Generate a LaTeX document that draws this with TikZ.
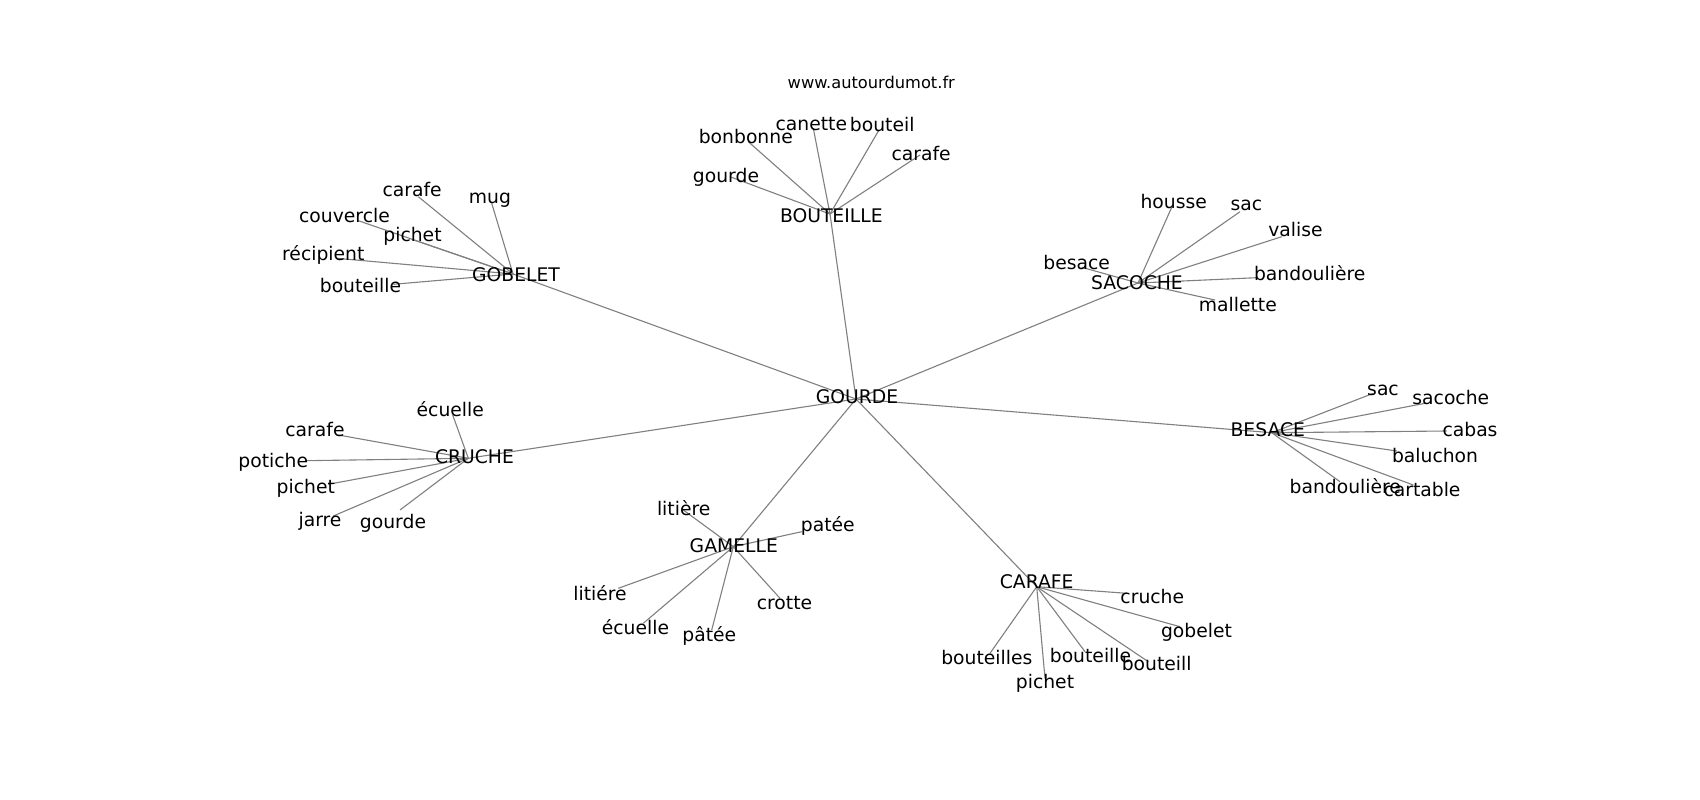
\documentclass[tikz,border=0pt]{standalone}
\usepackage{fontspec}
\setmainfont{DejaVu Sans}
\begin{document}
\begin{tikzpicture}[x=1pt,y=-1pt,
  edge/.style={draw=black!50, line width=1.1pt},
  lbl/.style={anchor=base, inner sep=0pt, font=\fontsize{18.75}{22}\selectfont, text=black},
  ttl/.style={anchor=base, inner sep=0pt, font=\fontsize{16.25}{19}\selectfont, text=black}]
\useasboundingbox[fill=white] (0,0) rectangle (1700,800);

% ---------- hub points ----------
\coordinate (gourde) at (856,399);
\coordinate (gobelet) at (513,274);
\coordinate (bouteille) at (830,214);
\coordinate (sacoche) at (1138,283);
\coordinate (besace) at (1271.7,432.7);
\coordinate (cruche) at (468.3,458.3);
\coordinate (gamelle) at (733.3,546.7);
\coordinate (carafe) at (1036.7,586.7);

% ---------- leaf points ----------
% GOBELET
\coordinate (gob-carafe) at (418.3,196.7);
\coordinate (gob-mug) at (491.7,203.3);
\coordinate (gob-couvercle) at (358.3,220.7);
\coordinate (gob-pichet) at (411.7,239.3);
\coordinate (gob-recipient) at (336.7,258.3);
\coordinate (gob-bouteille) at (393.3,284.3);
% BOUTEILLE
\coordinate (bou-canette) at (813.3,128.3);
\coordinate (bou-bouteil) at (879,130);
\coordinate (bou-bonbonne) at (748.3,141.7);
\coordinate (bou-carafe) at (920,155);
\coordinate (bou-gourde) at (730,176.7);
% SACOCHE
\coordinate (sac-housse) at (1171.7,207.3);
\coordinate (sac-sac) at (1240,211.7);
\coordinate (sac-valise) at (1281.7,236.7);
\coordinate (sac-besace) at (1081.7,267.3);
\coordinate (sac-bandouliere) at (1256.7,277.7);
\coordinate (sac-mallette) at (1215,300);
% BESACE
\coordinate (bes-sac) at (1373.3,393.3);
\coordinate (bes-sacoche) at (1425,403.3);
\coordinate (bes-cabas) at (1446.7,431);
\coordinate (bes-baluchon) at (1396.7,451);
\coordinate (bes-bandouliere) at (1340,481.7);
\coordinate (bes-cartable) at (1413.3,485);
% CRUCHE
\coordinate (cru-ecuelle) at (452.7,415);
\coordinate (cru-carafe) at (338.3,435);
\coordinate (cru-potiche) at (305,460.7);
\coordinate (cru-pichet) at (328.3,484.3);
\coordinate (cru-jarre) at (333.3,516);
\coordinate (cru-gourde) at (400,510);
% GAMELLE
\coordinate (gam-litiere) at (683.3,510);
\coordinate (gam-patee) at (801.7,531.7);
\coordinate (gam-litiere2) at (618.3,588.3);
\coordinate (gam-ecuelle) at (643.3,623.3);
\coordinate (gam-patee2) at (711.7,630);
\coordinate (gam-crotte) at (780,598.3);
% CARAFE
\coordinate (car-cruche) at (1126.7,593.3);
\coordinate (car-gobelet) at (1180,626.7);
\coordinate (car-bouteilles) at (990,653.3);
\coordinate (car-bouteille) at (1085,651.7);
\coordinate (car-bouteill) at (1148.3,661.7);
\coordinate (car-pichet) at (1045,678.3);

% ---------- edges ----------
\foreach \h in {gobelet,bouteille,sacoche,besace,cruche,gamelle,carafe}
  \draw[edge] (gourde) -- (\h);
\foreach \l in {carafe,mug,couvercle,pichet,recipient,bouteille}
  \draw[edge] (gobelet) -- (gob-\l);
\foreach \l in {canette,bouteil,bonbonne,carafe,gourde}
  \draw[edge] (bouteille) -- (bou-\l);
\foreach \l in {housse,sac,valise,besace,bandouliere,mallette}
  \draw[edge] (sacoche) -- (sac-\l);
\foreach \l in {sac,sacoche,cabas,baluchon,bandouliere,cartable}
  \draw[edge] (besace) -- (bes-\l);
\foreach \l in {ecuelle,carafe,potiche,pichet,jarre,gourde}
  \draw[edge] (cruche) -- (cru-\l);
\foreach \l in {litiere,patee,litiere2,ecuelle,patee2,crotte}
  \draw[edge] (gamelle) -- (gam-\l);
\foreach \l in {cruche,gobelet,bouteilles,bouteille,bouteill,pichet}
  \draw[edge] (carafe) -- (car-\l);

% ---------- labels ----------
\node[ttl] (title) at (871.3,88.3) {www.autourdumot.fr};

\node[lbl] (l-gourde) at (857,403.5) {GOURDE};
\node[lbl] (l-gobelet) at (516,281.7) {GOBELET};
\node[lbl] (l-bouteille) at (831.3,222.3) {BOUTEILLE};
\node[lbl] (l-sacoche) at (1137,289.3) {SACOCHE};
\node[lbl] (l-besace) at (1267.8,436.7) {BESACE};
\node[lbl] (l-cruche) at (474.5,463.3) {CRUCHE};
\node[lbl] (l-gamelle) at (733.8,552.3) {GAMELLE};
\node[lbl] (l-carafe) at (1036.7,588.3) {CARAFE};

\node[lbl] (l-gob-carafe) at (412.2,196.7) {carafe};
\node[lbl] (l-gob-mug) at (490,203.3) {mug};
\node[lbl] (l-gob-couvercle) at (344.5,222.3) {couvercle};
\node[lbl] (l-gob-pichet) at (412.5,241) {pichet};
\node[lbl] (l-gob-recipient) at (323.3,260) {récipient};
\node[lbl] (l-gob-bouteille) at (360.5,292.7) {bouteille};

\node[lbl] (l-bou-canette) at (811.3,130) {canette};
\node[lbl] (l-bou-bouteil) at (882.2,131) {bouteil};
\node[lbl] (l-bou-bonbonne) at (745.8,143.3) {bonbonne};
\node[lbl] (l-bou-carafe) at (921.2,160) {carafe};
\node[lbl] (l-bou-gourde) at (726,182.7) {gourde};

\node[lbl] (l-sac-housse) at (1173.7,208.3) {housse};
\node[lbl] (l-sac-sac) at (1246.3,210.7) {sac};
\node[lbl] (l-sac-valise) at (1295.5,236.7) {valise};
\node[lbl] (l-sac-besace) at (1076.7,269.3) {besace};
\node[lbl] (l-sac-bandouliere) at (1309.7,280) {bandoulière};
\node[lbl] (l-sac-mallette) at (1237.8,311) {mallette};

\node[lbl] (l-bes-sac) at (1383,395) {sac};
\node[lbl] (l-bes-sacoche) at (1450.8,404.3) {sacoche};
\node[lbl] (l-bes-cabas) at (1470,436.7) {cabas};
\node[lbl] (l-bes-baluchon) at (1435,462.7) {baluchon};
\node[lbl] (l-bes-bandouliere) at (1345.3,493.3) {bandoulière};
\node[lbl] (l-bes-cartable) at (1422,496) {cartable};

\node[lbl] (l-cru-ecuelle) at (450.3,416.7) {écuelle};
\node[lbl] (l-cru-carafe) at (315,436.7) {carafe};
\node[lbl] (l-cru-potiche) at (273.3,467.3) {potiche};
\node[lbl] (l-cru-pichet) at (305.8,493.3) {pichet};
\node[lbl] (l-cru-jarre) at (320,526.7) {jarre};
\node[lbl] (l-cru-gourde) at (393,528.3) {gourde};

\node[lbl] (l-gam-litiere) at (683.7,515) {litière};
\node[lbl] (l-gam-patee) at (827.8,531.7) {patée};
\node[lbl] (l-gam-litiere2) at (600,600.7) {litiére};
\node[lbl] (l-gam-ecuelle) at (635.5,634) {écuelle};
\node[lbl] (l-gam-patee2) at (709.3,641.7) {pâtée};
\node[lbl] (l-gam-crotte) at (784.5,609.3) {crotte};

\node[lbl] (l-car-cruche) at (1152.3,603.3) {cruche};
\node[lbl] (l-car-gobelet) at (1196.5,637.3) {gobelet};
\node[lbl] (l-car-bouteilles) at (986.8,664.3) {bouteilles};
\node[lbl] (l-car-bouteille) at (1090.5,662.3) {bouteille};
\node[lbl] (l-car-bouteill) at (1156.7,670) {bouteill};
\node[lbl] (l-car-pichet) at (1045,688.3) {pichet};
\end{tikzpicture}
\end{document}
